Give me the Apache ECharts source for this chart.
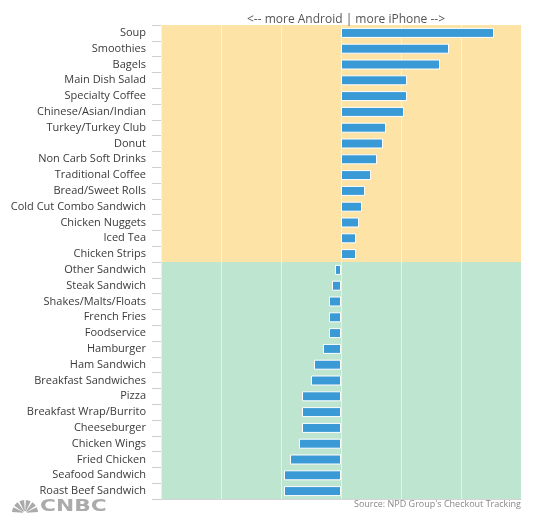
<!DOCTYPE html>
<html>
<head>
<meta charset="utf-8">
<script src="https://cdn.jsdelivr.net/npm/echarts@6/dist/echarts.min.js"></script>
<style>
  html, body { margin: 0; padding: 0; background: #fff; }
  #chart { width: 541px; height: 522px; }
</style>
</head>
<body>
<div id="chart"></div>
<script>
// 食品类别（从上到下）
const categories = [
  'Soup', 'Smoothies', 'Bagels', 'Main Dish Salad', 'Specialty Coffee',
  'Chinese/Asian/Indian', 'Turkey/Turkey Club', 'Donut', 'Non Carb Soft Drinks',
  'Traditional Coffee', 'Bread/Sweet Rolls', 'Cold Cut Combo Sandwich',
  'Chicken Nuggets', 'Iced Tea', 'Chicken Strips',
  'Other Sandwich', 'Steak Sandwich', 'Shakes/Malts/Floats', 'French Fries',
  'Foodservice', 'Hamburger', 'Ham Sandwich', 'Breakfast Sandwiches', 'Pizza',
  'Breakfast Wrap/Burrito', 'Cheeseburger', 'Chicken Wings', 'Fried Chicken',
  'Seafood Sandwich', 'Roast Beef Sandwich'
];

// iPhone 与 Android 偏好差值（估读）
const values = [
  2.55, 1.8, 1.65, 1.1, 1.1,
  1.05, 0.75, 0.7, 0.6,
  0.5, 0.4, 0.35,
  0.3, 0.25, 0.25,
  -0.1, -0.15, -0.2, -0.2,
  -0.2, -0.3, -0.45, -0.5, -0.65,
  -0.65, -0.65, -0.7, -0.85,
  -0.95, -0.95
];

const titleText = '<-- more Android | more iPhone -->';
const sourceText = "Source: NPD Group's Checkout Tracking";

// 背景色带：前半为 iPhone 区，后半为 Android 区
const bandColors = categories.map((c, i) => (values[i] >= 0 ? '#fde4a6' : '#bee5cf'));

const chart = echarts.init(document.getElementById('chart'));

// 孔雀标志的羽毛
const feathers = [];
for (let i = 0; i < 6; i++) {
  const a0 = Math.PI + i * Math.PI / 6 + 0.07;
  const a1 = Math.PI + (i + 1) * Math.PI / 6 - 0.07;
  feathers.push({
    type: 'sector',
    shape: { cx: 25, cy: 513, r0: 2, r: 13, startAngle: a0, endAngle: a1 },
    style: { fill: '#ababab' }
  });
}

const option = {
  animation: false,
  title: {
    text: titleText,
    left: 341,
    textAlign: 'center',
    top: 9,
    textStyle: {
      fontFamily: 'Open Sans',
      fontSize: 12,
      fontWeight: 'normal',
      color: '#555'
    }
  },
  grid: {
    left: 161,
    right: 20,
    top: 25,
    bottom: 23,
    containLabel: false
  },
  xAxis: {
    type: 'value',
    min: -3,
    max: 3,
    interval: 1,
    axisLabel: { show: false },
    axisTick: { show: false },
    axisLine: { show: true, onZero: false, lineStyle: { color: '#d5d5d5', width: 1 } },
    splitLine: { show: true, lineStyle: { color: 'rgba(255,255,255,0.55)', width: 1 } }
  },
  yAxis: {
    type: 'category',
    data: categories,
    inverse: true,
    axisLine: { show: false, onZero: false },
    axisTick: { show: true, interval: 0, length: 9, lineStyle: { color: '#cfcfcf', width: 1 } },
    axisLabel: {
      margin: 15,
      fontFamily: 'Open Sans',
      fontSize: 11,
      color: '#3a3a3a'
    },
    splitArea: {
      show: true,
      interval: 0,
      areaStyle: { color: bandColors }
    }
  },
  series: [
    {
      type: 'bar',
      data: values,
      barWidth: 10,
      itemStyle: {
        color: '#3a9ad6',
        borderColor: '#ffffff',
        borderWidth: 1
      }
    }
  ],
  graphic: [
    {
      type: 'text',
      right: 20,
      top: 500,
      style: {
        text: sourceText,
        fontFamily: 'Open Sans',
        fontSize: 9,
        fill: '#888'
      }
    }
  ].concat(feathers).concat([
    {
      type: 'text',
      x: 40,
      y: 500,
      scaleX: 1.45,
      style: {
        text: 'CNBC',
        fontFamily: 'DejaVu Sans',
        fontWeight: 'bold',
        fontSize: 15,
        fill: '#ababab'
      }
    }
  ])
};

chart.setOption(option);
</script>
</body>
</html>
